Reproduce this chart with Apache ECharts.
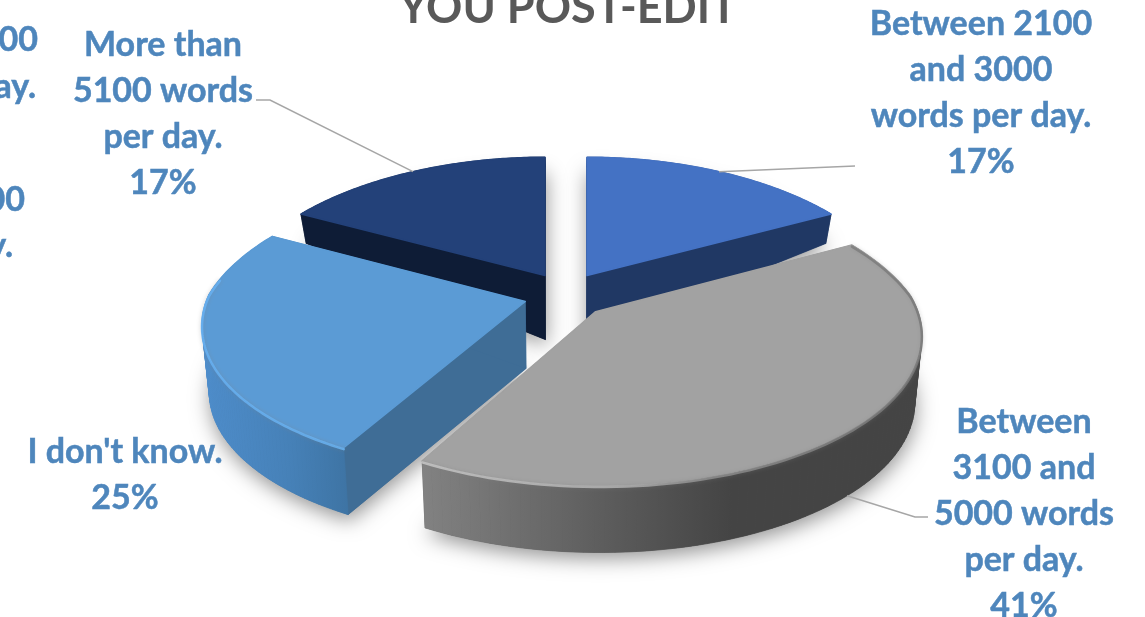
<!DOCTYPE html>
<html>
<head>
<meta charset="utf-8">
<style>html,body{margin:0;padding:0;background:#fff;overflow:hidden}#c{width:1145px;height:617px}</style>
<script src="https://cdn.jsdelivr.net/npm/echarts@6/dist/echarts.min.js"></script>
</head>
<body>
<div id="c"></div>
<script>
// Share of respondents per daily post-editing volume, clockwise from 12 o'clock
const categories = [
  'Between 2100\nand 3000\nwords per day.',
  'Between\n3100 and\n5000 words\nper day.',
  "I don't know.",
  'More than\n5100 words\nper day.'
];
const shares = [17, 41, 25, 17];
const title = 'YOU POST-EDIT';

// Back slices are painted first so the nearer ones overlap them
const paintOrder = [3, 0, 2, 1];

// Colours per slice: top face, radial wall, outer rim gradient stops
const looks = [
  { top: '#4472C4', wall: '#203864', rim: [[0, '#203864'], [1, '#203864']], explode: 0.13 },
  { top: '#A2A2A2', wall: '#505050', rim: [[0, '#828282'], [0.35, '#5e5e5e'], [0.62, '#444444'], [1, '#444444']],
    bevel: [[0, '#c6c6c6'], [0.4, '#b2b2b2'], [0.58, '#8c8c8c'], [1, '#787878']], explode: 0.13, bevelSpan: [0, 1] },
  { top: '#5B9BD5', wall: '#3F6D96', rim: [[0, '#4E8DCB'], [0.6, '#4681B8'], [1, '#3E74A4']],
    bevel: [[0, '#66B0F2'], [1, '#6AB2F0']], explode: 0.133, bevelSpan: [0, 0.78] },
  { top: '#234179', wall: '#0E1C36', rim: [[0, '#0E1C36'], [1, '#0E1C36']], explode: 0.13 }
];

// Projection of the tilted disc onto the page
const view = { cx: 566, cy: 295, rx: 317, ry: 144, nearPersp: 7.04, farPersp: 4.5, farPerspY: 6, explodeY: 0.161, depth: 67 };

const total = shares.reduce((a, b) => a + b, 0);
function sliceAngles(i) {
  let before = 0;
  for (let k = 0; k < i; k++) before += shares[k];
  const a0 = before / total * Math.PI * 2;
  return [a0, a0 + shares[i] / total * Math.PI * 2];
}
function slicePoint(i, angle, radius, lowered) {
  const [a0, a1] = sliceAngles(i);
  const mid = (a0 + a1) / 2;
  const ox = looks[i].explode * Math.sin(mid);
  const X = radius * Math.sin(angle);
  const Y = radius * Math.cos(angle) + view.explodeY * Math.cos(mid);
  const sx = Y > 0 ? view.farPersp / (view.farPersp + Y) : view.nearPersp / (view.nearPersp + Y);
  const sy = Y > 0 ? view.farPerspY / (view.farPerspY + Y) : view.nearPersp / (view.nearPersp + Y);
  let x = view.cx + view.rx * (X * sx + ox * (Y > 0 ? 1 : sx));
  let y = view.cy - view.ry * Y * sy;
  if (lowered) {
    const h = Math.max(10, view.depth - 72 * Math.max(0, Y - 0.1));
    x += (view.cx - x) * 0.02;
    y += h;
  }
  return [x, y];
}
function arcPoints(i, from, to, lowered) {
  const pts = [];
  const n = 90;
  for (let k = 0; k <= n; k++) pts.push(slicePoint(i, from + (to - from) * k / n, 1, lowered));
  return pts;
}
function horizontal(stops, x0, x1) {
  return new echarts.graphic.LinearGradient(x0, 0, x1, 0, stops.map(s => ({ offset: s[0], color: s[1] })), true);
}

function renderSlice(params, api) {
  const i = api.value(1);
  const [a0, a1] = sliceAngles(i);
  const look = looks[i];
  const topArc = arcPoints(i, a0, a1, false);
  const lowArc = arcPoints(i, a0, a1, true);
  const apexTop = slicePoint(i, 0, 0, false);
  const apexLow = slicePoint(i, 0, 0, true);
  const xs = topArc.concat(lowArc).map(p => p[0]);
  const x0 = Math.min.apply(null, xs);
  const x1 = Math.max.apply(null, xs);
  const children = [];
  // soft contact shadow cast by the slice's underside
  children.push({ type: 'polygon', shape: { points: [apexLow].concat(lowArc) },
    style: { fill: look.wall, shadowBlur: 20, shadowOffsetX: 1, shadowOffsetY: 6, shadowColor: 'rgba(0,0,0,0.42)' } });
  // radial walls
  [[topArc[0], lowArc[0]], [topArc[topArc.length - 1], lowArc[lowArc.length - 1]]].forEach(w => {
    children.push({ type: 'polygon', shape: { points: [apexTop, w[0], w[1], apexLow] },
      style: { fill: look.wall, stroke: look.wall, lineWidth: 0.5 } });
  });
  // outer rim, swept step by step so its side silhouette stays closed
  const rimFill = horizontal(look.rim, x0, x1);
  for (let k = 0; k < topArc.length - 1; k++) {
    children.push({ type: 'polygon', shape: { points: [topArc[k], topArc[k + 1], lowArc[k + 1], lowArc[k]] },
      style: { fill: rimFill, stroke: rimFill, lineWidth: 0.7 } });
  }
  // top face
  children.push({ type: 'polygon', shape: { points: [apexTop].concat(topArc) },
    style: { fill: look.top, stroke: look.top, lineWidth: 1.5, lineJoin: 'round' } });
  // rounded bevel along the visible rim edge
  if (look.bevel) {
    const start = a0 + (a1 - a0) * look.bevelSpan[0];
    const end = a0 + (a1 - a0) * look.bevelSpan[1];
    const edge = arcPoints(i, start, end, false).map(p => [p[0], p[1] + 1.5]);
    children.push({ type: 'polyline', shape: { points: edge },
      style: { fill: null, stroke: horizontal(look.bevel, x0, x1), lineWidth: 2.5, lineCap: 'round', opacity: 0.85, shadowBlur: 4, shadowColor: 'rgba(130,130,130,0.45)' } });
  }
  return { type: 'group', children };
}

// Label block centres and leader-line routes, given per slice
const labelSpots = [
  { x: 981, y: 1, elbow: [[855, 166]], rimLowered: false },
  { x: 1024, y: 399, elbow: [[915, 517], [928, 517]], rimLowered: true },
  { x: 125, y: 429 },
  { x: 163, y: 22, elbow: [[270, 100], [256, 100]], rimLowered: false }
];
const labelFont = { fontFamily: 'Lato', fontWeight: 'bold', fontSize: 34, fill: '#4E86BC', stroke: '#4E86BC', lineWidth: 0.5, lineHeight: 46, align: 'center', verticalAlign: 'top' };

function renderLabel(params, api) {
  const i = api.value(1);
  const spot = labelSpots[i];
  const children = [{ type: 'text', style: Object.assign({ text: categories[i] + '\n' + shares[i] + '%', x: spot.x, y: spot.y }, labelFont) }];
  if (spot.elbow) {
    const [a0, a1] = sliceAngles(i);
    const start = slicePoint(i, (a0 + a1) / 2, 1, spot.rimLowered);
    children.push({ type: 'polyline', shape: { points: [start].concat(spot.elbow) },
      style: { fill: null, stroke: '#A6A6A6', lineWidth: 1.5 } });
  }
  return { type: 'group', children };
}

const rows = paintOrder.map(i => [shares[i], i]);
const chart = echarts.init(document.getElementById('c'), null, { renderer: 'canvas' });
// Lines of the labels that run off the left edge of the page
const edgeLine = (text, x, y) => ({ type: 'text', x, y, style: Object.assign({}, labelFont, { text, align: 'right' }) });
chart.setOption({
  animation: false,
  backgroundColor: '#fff',
  title: {
    text: title, left: 563, top: -19, textAlign: 'center',
    textStyle: { fontFamily: 'Lato', fontWeight: 'bold', fontSize: 45, color: '#595959' }
  },
  series: [
    { type: 'custom', coordinateSystem: 'none', renderItem: renderSlice, data: rows, silent: true },
    { type: 'custom', coordinateSystem: 'none', renderItem: renderLabel, data: rows, silent: true, z: 3 }
  ],
  graphic: [
    edgeLine('1000', 38, 17),
    edgeLine('per day.', 36, 64),
    edgeLine('2000', 25, 177),
    edgeLine('per day.', 13, 223)
  ]
});
</script>
</body>
</html>
